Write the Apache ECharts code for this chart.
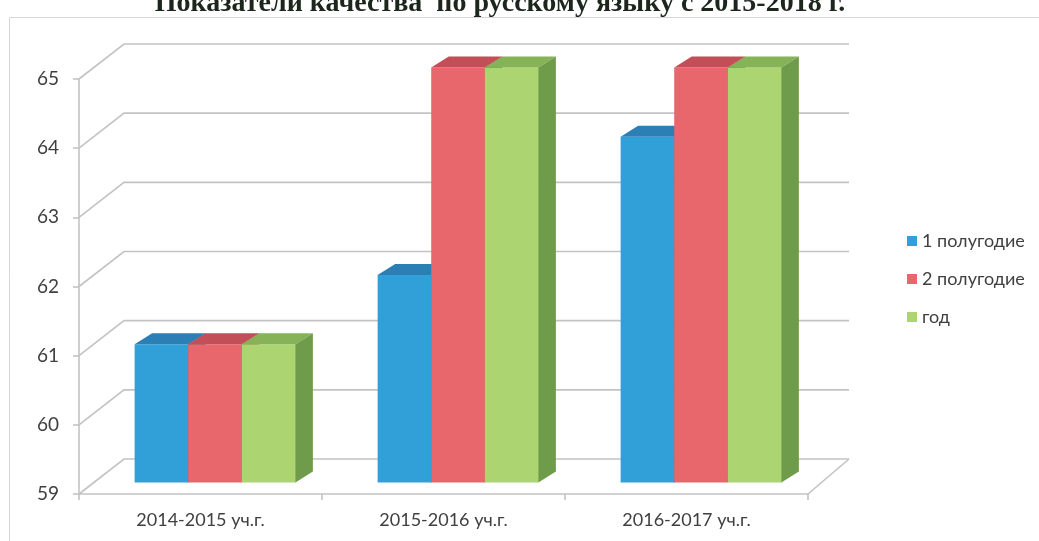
<!DOCTYPE html>
<html>
<head>
<meta charset="utf-8">
<script src="https://cdn.jsdelivr.net/npm/echarts@6/dist/echarts.min.js"></script>
<style>html,body{margin:0;padding:0;background:#fff;}#chart{width:1039px;height:541px;}</style>
</head>
<body>
<div id="chart"></div>
<script>
const categories = ['2014-2015 уч.г.', '2015-2016 уч.г.', '2016-2017 уч.г.'];
const seriesNames = ['1 полугодие', '2 полугодие', 'год'];
const half1 = [61, 62, 64];
const half2 = [61, 65, 65];
const year = [61, 65, 65];
const yTicks = [59, 60, 61, 62, 63, 64, 65];
const title = 'Показатели качества  по русскому языку с 2015-2018 г.';

const Y_MIN = 59, Y_MAX = 65;
const palettes = [
  {front: '#31a0d8', top: '#2b7fb5', side: '#25729f'},
  {front: '#e8676d', top: '#c24f57', side: '#b3454d'},
  {front: '#acd471', top: '#86b258', side: '#6f9c4a'}
];
const WALL_DX = 45, WALL_DY = -35;
const BAR_DX = 14.5, BAR_DY = -11.5;
const DEPTH_DX = 17.5, DEPTH_DY = -11;
const BAR_RATIO = 0.2205;
const FONT = 'Lato, "Open Sans", sans-serif';

const chart = echarts.init(document.getElementById('chart'), null, {renderer: 'canvas'});

function barRender(idx) {
  return function (params, api) {
    const cat = api.value(0), v = api.value(1);
    const base = api.coord([cat, Y_MIN]);
    const top = api.coord([cat, v]);
    const band = api.size([1, 0])[0];
    const bw = band * BAR_RATIO;
    const left = base[0] - 1.5 * bw + idx * bw + BAR_DX;
    const ty = top[1] + BAR_DY, by = base[1] + BAR_DY;
    const p = palettes[idx];
    return {
      type: 'group',
      children: [
        {type: 'rect', shape: {x: left, y: ty, width: bw + 0.5, height: by - ty}, style: {fill: p.front}},
        {type: 'polygon', shape: {points: [[left, ty], [left + bw, ty], [left + bw + DEPTH_DX, ty + DEPTH_DY], [left + DEPTH_DX, ty + DEPTH_DY]]}, style: {fill: p.top}},
        {type: 'polygon', shape: {points: [[left + bw, ty], [left + bw + DEPTH_DX, ty + DEPTH_DY], [left + bw + DEPTH_DX, by + DEPTH_DY], [left + bw, by]]}, style: {fill: p.side}}
      ]
    };
  };
}

function wallRender(params, api) {
  const v = api.value(0);
  const cs = params.coordSys;
  const y = api.coord([0, v])[1];
  const x0 = cs.x, x1 = cs.x + cs.width;
  const children = [{
    type: 'polyline',
    shape: {points: [[x0, y], [x0 + WALL_DX, y + WALL_DY], [x1 + WALL_DX - 4, y + WALL_DY]]},
    style: {stroke: '#c3c3c3', lineWidth: 1.6, fill: null}
  }];
  if (v === Y_MIN) {
    children.push({
      type: 'line',
      shape: {x1: x1, y1: y, x2: x1 + WALL_DX - 4, y2: y + WALL_DY},
      style: {stroke: '#c3c3c3', lineWidth: 1.6}
    });
  }
  return {type: 'group', children: children};
}

const series = [{
  type: 'custom',
  name: 'wall',
  silent: true,
  renderItem: wallRender,
  data: yTicks.map(v => [v]),
  encode: {y: 0},
  z: 1
}];
[half1, half2, year].forEach((arr, i) => {
  series.push({
    type: 'custom',
    name: seriesNames[i],
    itemStyle: {color: palettes[i].front},
    renderItem: barRender(i),
    data: arr.map((v, c) => [c, v]),
    encode: {x: 0, y: 1},
    z: 2 + i
  });
});

chart.setOption({
  animation: false,
  backgroundColor: '#fff',
  graphic: [
    {type: 'rect', shape: {x: 9.5, y: 17.5, width: 1100, height: 600}, style: {fill: null, stroke: '#d6d6d6', lineWidth: 1}, z: 0},
    {type: 'text', x: 500, y: 18, style: {text: title, align: 'center', verticalAlign: 'bottom', font: 'bold 28px "Liberation Serif", serif', fill: '#1c261c'}, z: 10}
  ],
  legend: {
    orient: 'vertical',
    left: 902,
    top: 227,
    itemWidth: 10,
    itemHeight: 10,
    itemGap: 20,
    icon: 'rect',
    data: seriesNames,
    textStyle: {fontFamily: FONT, fontSize: 18, color: '#404040', padding: [0, 0, 0, 0]}
  },
  grid: {left: 79, right: 231, top: 79, bottom: 47},
  xAxis: {
    type: 'category',
    data: categories,
    axisLine: {lineStyle: {color: '#c3c3c3', width: 1.6}},
    axisTick: {show: true, length: 6, lineStyle: {color: '#c3c3c3', width: 1.6}},
    axisLabel: {fontFamily: FONT, fontSize: 18, color: '#404040', margin: 17}
  },
  yAxis: {
    type: 'value',
    min: Y_MIN,
    max: Y_MAX,
    interval: 1,
    splitLine: {show: false},
    axisLine: {show: true, lineStyle: {color: '#c3c3c3', width: 1.6}},
    axisTick: {show: true, length: 6, lineStyle: {color: '#c3c3c3', width: 1.6}},
    axisLabel: {fontFamily: FONT, fontSize: 19, color: '#404040', margin: 20}
  },
  series: series
});
</script>
</body>
</html>
